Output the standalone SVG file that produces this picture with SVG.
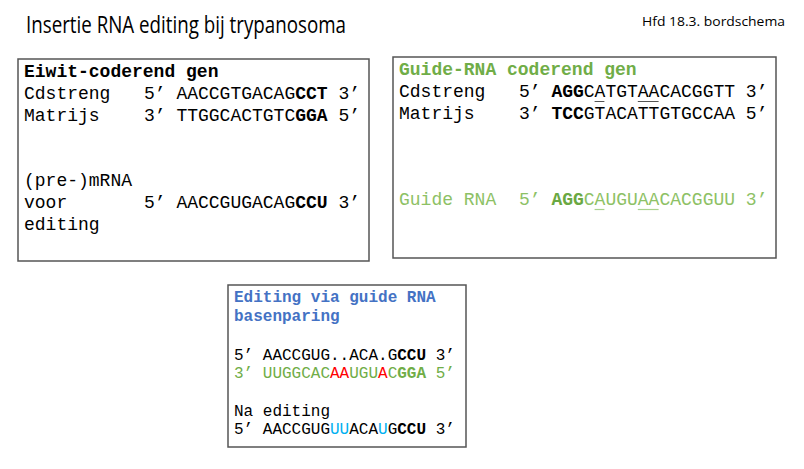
<svg xmlns="http://www.w3.org/2000/svg" width="804" height="469" viewBox="0 0 804 469">
<style>
.box{fill:#fff;stroke:#555;stroke-width:1.5}
.m18{font-family:"Liberation Mono","Courier New",monospace;font-size:18px;fill:#000}
.m16{font-family:"Liberation Mono","Courier New",monospace;font-size:16px;fill:#000}
.b{font-weight:bold}
.g{fill:#70AD47}
.lg{fill:#8DC165}
.dg{fill:#6AA842}
.bl{fill:#4472C4}
.r{fill:#FF0000}
.c{fill:#00B0F0}
.hd{font-family:"Open Sans","Liberation Sans",sans-serif;fill:#000}
</style>
<rect width="804" height="469" fill="#fff"/>
<g id="header">
<text class="hd" x="26" y="33" font-size="23" textLength="320" lengthAdjust="spacingAndGlyphs">Insertie RNA editing bij trypanosoma</text>
<text class="hd" x="642" y="26" font-size="13" textLength="143" lengthAdjust="spacingAndGlyphs">Hfd 18.3. bordschema</text>
</g>
<g id="box-eiwit">
<rect class="box" x="18" y="59" width="351" height="202"/>
<text class="m18 b" x="24" y="76.5">Eiwit-coderend gen</text>
<text class="m18" x="24" y="99">Cdstreng</text>
<text class="m18" x="144" y="99" xml:space="preserve">5’ AACCGTGACAG<tspan class="b">CCT</tspan> 3’</text>
<text class="m18" x="24" y="121">Matrijs</text>
<text class="m18" x="144" y="121" xml:space="preserve">3’ TTGGCACTGTC<tspan class="b">GGA</tspan> 5’</text>
<text class="m18" x="24" y="186">(pre-)mRNA</text>
<text class="m18" x="24" y="208">voor</text>
<text class="m18" x="144" y="208" xml:space="preserve">5’ AACCGUGACAG<tspan class="b">CCU</tspan> 3’</text>
<text class="m18" x="24" y="230">editing</text>
</g>
<g id="box-guide">
<rect class="box" x="393" y="57" width="383" height="201"/>
<text class="m18 b g" x="399" y="74.5">Guide-RNA coderend gen</text>
<text class="m18" x="399" y="96.5">Cdstreng</text>
<text class="m18" x="519" y="96.5" xml:space="preserve">5’ <tspan class="b">AGG</tspan>CATGTAACACGGTT 3’</text>
<text class="m18" x="399" y="118.5">Matrijs</text>
<text class="m18" x="519" y="118.5" xml:space="preserve">3’ <tspan class="b">TCC</tspan>GTACATTGTGCCAA 5’</text>
<text class="m18 lg" x="399" y="205">Guide RNA</text>
<text class="m18 lg" x="519" y="205" xml:space="preserve">5’ <tspan class="b dg">AGG</tspan>CAUGUAACACGGUU 3’</text>
<line x1="594.6" y1="101.5" x2="604.4" y2="101.5" stroke="#555" stroke-width="1"/>
<line x1="637.8" y1="101.5" x2="658.6" y2="101.5" stroke="#555" stroke-width="1"/>
<line x1="594.6" y1="209.5" x2="604.4" y2="209.5" stroke="#A9D18E" stroke-width="1.2"/>
<line x1="637.8" y1="209.5" x2="658.6" y2="209.5" stroke="#A9D18E" stroke-width="1.2"/>
</g>
<g id="box-editing">
<rect class="box" x="228" y="285" width="238" height="162"/>
<text class="m16 b bl" x="234" y="301.5">Editing via guide RNA</text>
<text class="m16 b bl" x="234" y="320.5">basenparing</text>
<text class="m16" x="234" y="360" xml:space="preserve">5’ AACCGUG..ACA.G<tspan class="b">CCU</tspan> 3’</text>
<text class="m16 g" x="234" y="378" xml:space="preserve">3’ UUGGCAC<tspan class="r">AA</tspan>UGU<tspan class="r">A</tspan>C<tspan class="b">GGA</tspan> 5’</text>
<text class="m16" x="234" y="416">Na editing</text>
<text class="m16" x="234" y="433.5" xml:space="preserve">5’ AACCGUG<tspan class="c">UU</tspan>ACA<tspan class="c">U</tspan>G<tspan class="b">CCU</tspan> 3’</text>
</g>
<g id="connectors"></g>
</svg>
